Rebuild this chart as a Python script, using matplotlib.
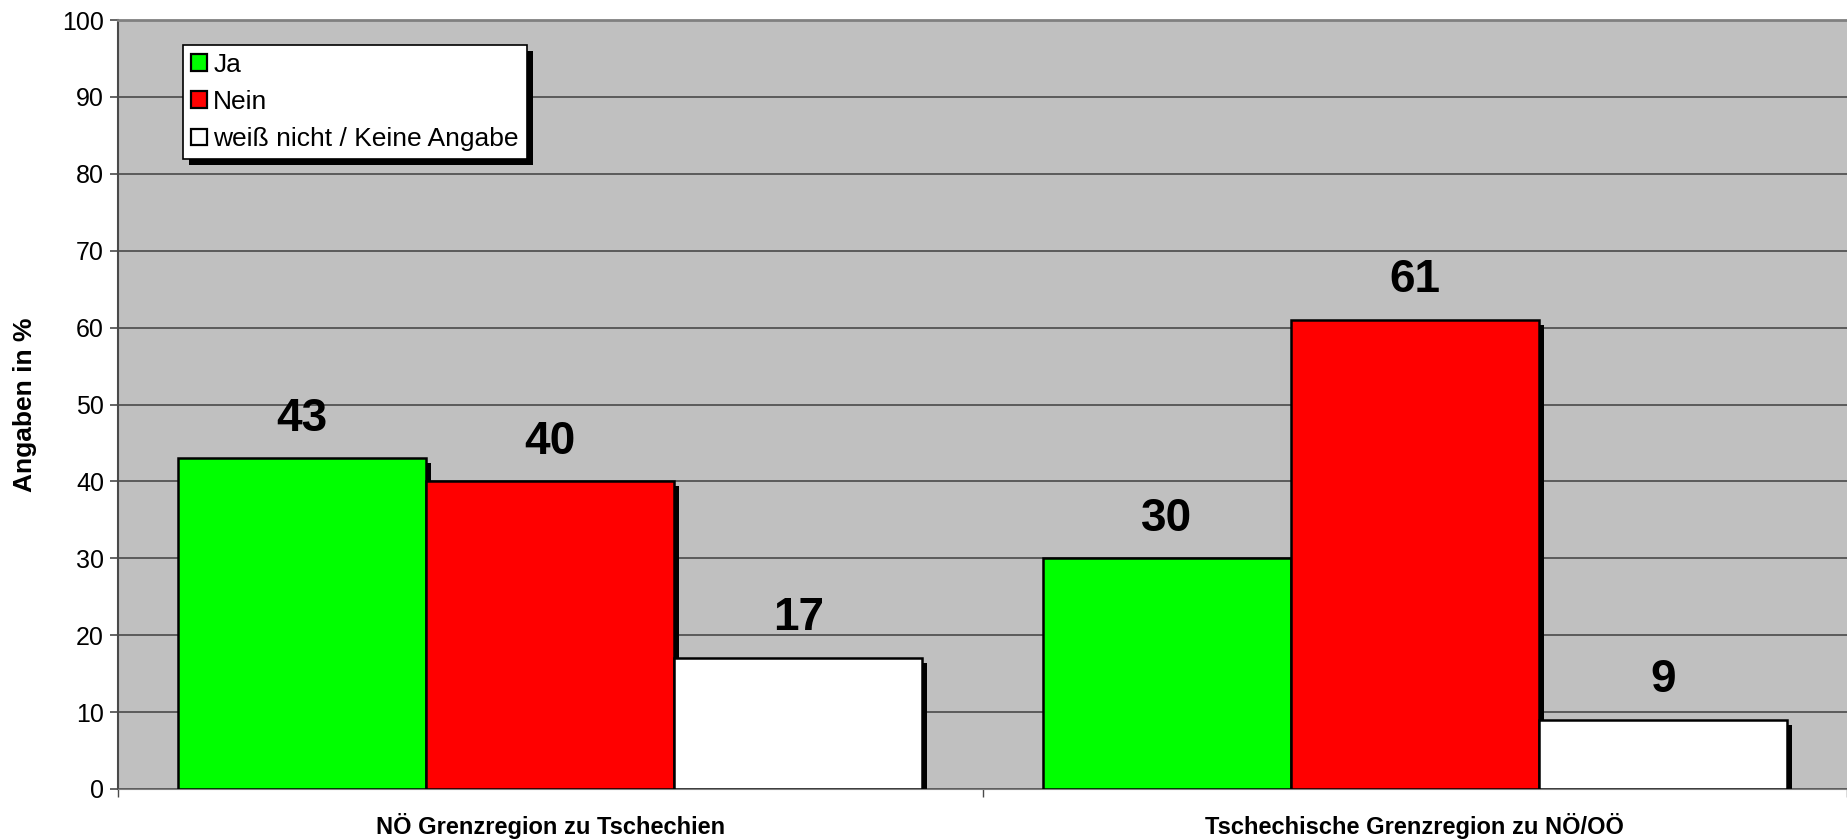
import matplotlib
matplotlib.use("Agg")
import matplotlib.pyplot as plt
from matplotlib.patches import Rectangle
from matplotlib.transforms import IdentityTransform
import numpy as np

plt.rcParams['font.family'] = ['Liberation Sans', 'DejaVu Sans']

categories = ['NÖ Grenzregion zu Tschechien', 'Tschechische Grenzregion zu NÖ/OÖ']
series_names = ['Ja', 'Nein', 'weiß nicht / Keine Angabe']
ja = [43, 30]
nein = [40, 61]
weiss_nicht = [17, 9]
series_values = [ja, nein, weiss_nicht]
colors = ['#00FF00', '#FF0000', '#FFFFFF']
yticks = [0, 10, 20, 30, 40, 50, 60, 70, 80, 90, 100]

W, H = 1847, 840
fig = plt.figure(figsize=(W / 100, H / 100), dpi=100)
ax = fig.add_axes([118 / W, 51 / H, (W - 118) / W, 769 / H])
ax.set_facecolor('#C0C0C0')

x = np.arange(len(categories)) + 0.5
bw = 0.287
offsets = [-bw, 0, bw]

# drop shadow offset (about 5 px right and down)
sdx = 5 / 864.5
sdy = 5 / 7.69

for vals, name, col, off in zip(series_values, series_names, colors, offsets):
    ax.bar(x + off + sdx, vals, width=bw, bottom=-sdy, color='black',
           linewidth=0, zorder=2.5)
    ax.bar(x + off, vals, width=bw, color=col, edgecolor='black',
           linewidth=1.8, label=name, zorder=3)
    for xi, v in zip(x + off, vals):
        ax.annotate(str(v), (xi, v), xytext=(0, 20), textcoords='offset points',
                    ha='center', va='baseline', fontsize=33, fontweight='bold',
                    zorder=4)

ax.set_xlim(0, 2)
ax.set_ylim(0, 100)
ax.set_yticks(yticks)
ax.set_axisbelow(True)
ax.grid(axis='y', color='#4a4a4a', linewidth=1.2)

ax.set_xticks(x)
ax.set_xticklabels(categories, fontsize=17, fontweight='bold')
ax.set_xticks([0, 1, 2], minor=True)
ax.tick_params(axis='x', which='major', length=0, pad=17)
ax.tick_params(axis='x', which='minor', length=6, color='#4a4a4a', width=1)
ax.tick_params(axis='y', labelsize=18, length=6, color='#4a4a4a', width=1.2, pad=4)

ax.set_ylabel('Angaben in %', fontsize=19, fontweight='bold')
ax.yaxis.set_label_coords(-0.047, 0.5)

ax.spines['right'].set_visible(False)
ax.spines['top'].set_color('#808080')
ax.spines['top'].set_linewidth(2)
ax.spines['left'].set_color('#4a4a4a')
ax.spines['left'].set_linewidth(1.5)
ax.spines['bottom'].set_color('#808080')

leg = ax.legend(loc='upper left', bbox_to_anchor=(183 / W, 1 - 45 / H),
                bbox_transform=fig.transFigure, fontsize=19, frameon=True,
                fancybox=False, edgecolor='black', framealpha=1,
                handlelength=0.6, handleheight=0.6, handletextpad=0.25,
                labelspacing=0.5, borderpad=0.3, borderaxespad=0)
leg.get_frame().set_linewidth(1.2)
for h in leg.legend_handles:
    h.set_linewidth(1.6)
leg.set_zorder(6)

# legend drop shadow
fig.canvas.draw()
bb = leg.get_window_extent()
ax.add_patch(Rectangle((bb.x0 + 6, bb.y0 - 6), bb.width, bb.height,
                       transform=IdentityTransform(), facecolor='black',
                       edgecolor='none', zorder=5.5, clip_on=False))

fig.savefig('out.png', dpi=100)
